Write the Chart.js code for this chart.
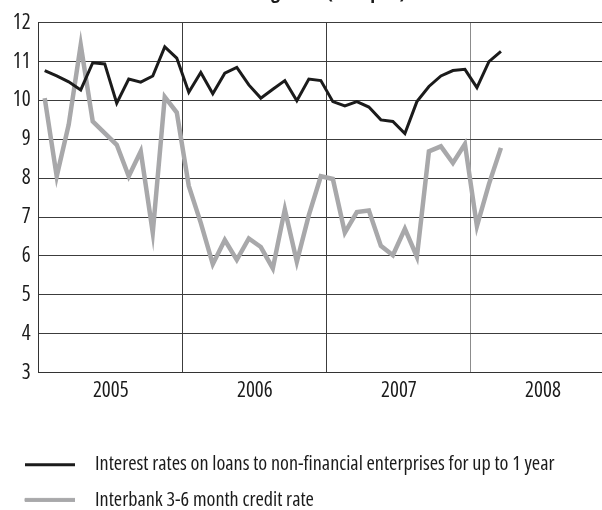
<!DOCTYPE html>
<html>
<head>
<meta charset="utf-8">
<script src="https://cdn.jsdelivr.net/npm/chart.js@4.4.1/dist/chart.umd.min.js"></script>
<style>
  html, body { margin: 0; padding: 0; width: 602px; height: 510px; overflow: hidden; background: #fff; }
  #wrap { position: absolute; left: 0; top: -16px; width: 615px; height: 536px; }
</style>
</head>
<body>
<div id="wrap"><canvas id="c" width="615" height="536" style="width:615px;height:536px"></canvas></div>
<script>
// ---- data (monthly, Jan 2005 – Mar 2008) ----
const years = ['2005', '2006', '2007', '2008'];
const months = ['01','02','03','04','05','06','07','08','09','10','11','12'];
const seriesNames = [
  'Interest rates on loans to non-financial enterprises for up to 1 year',
  'Interbank 3-6 month credit rate'
];
const loanRate = [
  10.77, 10.63, 10.48, 10.27, 10.97, 10.94, 9.93, 10.55, 10.47, 10.63, 11.38, 11.09,
  10.21, 10.72, 10.17, 10.70, 10.85, 10.40, 10.06, 10.29, 10.51, 9.99, 10.55, 10.51,
  9.97, 9.86, 9.97, 9.83, 9.50, 9.46, 9.15, 9.97, 10.36, 10.63, 10.77, 10.80,
  10.33, 11.00, 11.26
];
const interbankRate = [
  10.06, 8.05, 9.38, 11.43, 9.46, 9.16, 8.86, 8.05, 8.69, 6.60, 10.09, 9.69,
  7.80, 6.85, 5.79, 6.41, 5.90, 6.45, 6.23, 5.68, 7.20, 5.85, 7.05, 8.05,
  7.98, 6.60, 7.13, 7.17, 6.26, 6.02, 6.70, 5.98, 8.69, 8.82, 8.39, 8.88,
  6.77, 7.85, 8.78
];
const titleText = 'Lending rates (in % p.a.)';

const categories = [];
years.forEach(y => months.forEach(m => categories.push(y + '-' + m)));

const FONT = "'Open Sans', 'Liberation Sans', sans-serif";
const BLACK = '#1b1b1b';
const GRAY = '#a8a8aa';

new Chart(document.getElementById('c'), {
  type: 'line',
  data: {
    labels: categories,
    datasets: [
      { label: seriesNames[0], data: loanRate, borderColor: BLACK, backgroundColor: BLACK,
        borderWidth: 3, pointRadius: 0, tension: 0, fill: false },
      { label: seriesNames[1], data: interbankRate, borderColor: GRAY, backgroundColor: GRAY,
        borderWidth: 4.5, pointRadius: 0, tension: 0, fill: false }
    ]
  },
  options: {
    responsive: false,
    animation: false,
    layout: { padding: { left: 10, right: 0, top: 0, bottom: 0 } },
    plugins: {
      tooltip: { enabled: false },
      title: {
        display: true,
        text: titleText,
        color: BLACK,
        font: { family: FONT, size: 20, weight: 'bold condensed' },
        padding: { top: -4, bottom: 18.7 }
      },
      legend: {
        display: true,
        position: 'bottom',
        align: 'start',
        labels: {
          color: BLACK,
          font: { family: FONT, size: 20.2, weight: 'condensed' },
          boxWidth: 60,
          boxHeight: 3,
          padding: 15,
          generateLabels: function(chart) {
            const ctx = chart.ctx;
            return chart.data.datasets.map((ds, i) => {
              const g = ctx.createLinearGradient(25, 0, 85, 0);
              g.addColorStop(0, ds.borderColor);
              g.addColorStop(0.833, ds.borderColor);
              g.addColorStop(0.834, 'rgba(255,255,255,0)');
              g.addColorStop(1, 'rgba(255,255,255,0)');
              return {
                text: ds.label,
                fillStyle: g,
                strokeStyle: g,
                lineWidth: i === 1 ? 1 : 0,
                fontColor: BLACK,
                hidden: false,
                datasetIndex: i
              };
            });
          }
        }
      }
    },
    scales: {
      x: {
        type: 'category',
        offset: true,
        afterFit: s => { s.height = 67; },
        border: { display: true, color: '#333', width: 1 },
        grid: {
          offset: true,
          drawTicks: false,
          lineWidth: 1,
          color: c => (c.index > 0 && c.index % 12 === 0) ? (c.index === 36 ? '#8c8c8c' : '#3c3c3c') : 'rgba(0,0,0,0)'
        },
        ticks: {
          autoSkip: false,
          maxRotation: 0,
          minRotation: 0,
          padding: 6,
          labelOffset: -6,
          color: BLACK,
          font: { family: FONT, size: 21, weight: 'condensed' },
          callback: function(v) {
            const l = this.getLabelForValue(v);
            return l.endsWith('-07') ? l.slice(0, 4) : '';
          }
        }
      },
      y: {
        min: 3,
        max: 12,
        afterFit: s => { s.width = 28.7; },
        border: { display: true, color: '#333', width: 1 },
        grid: { drawTicks: false, color: '#3c3c3c', lineWidth: 1 },
        ticks: {
          stepSize: 1,
          padding: 8,
          color: BLACK,
          font: { family: FONT, size: 21, weight: 'condensed' }
        }
      }
    }
  }
});
</script>
</body>
</html>
